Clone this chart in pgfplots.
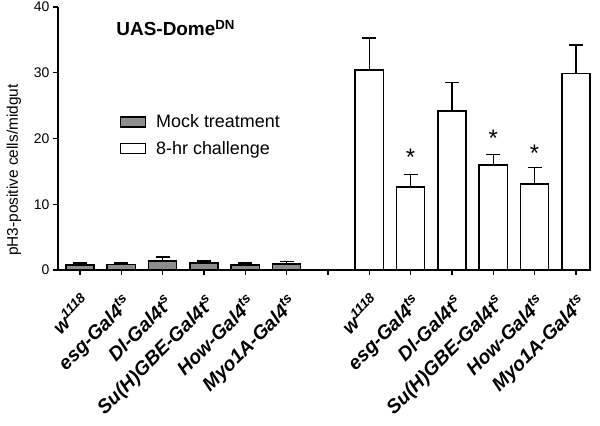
\documentclass[border=0pt]{standalone}
\usepackage{fontspec}
\setmainfont{Liberation Sans}
\usepackage{pgfplots}
\pgfplotsset{compat=1.18}
\definecolor{mockgray}{HTML}{8E8E8E}
\pgfplotsset{boxlegend/.style={legend image code/.code={\draw[##1,line width=1.5pt] (0bp,-5bp) rectangle (25bp,5bp);}},
 errstyle/.style={error bars/.cd,y dir=plus,y explicit,
 error bar style={line width=1.5pt,black},error mark options={rotate=90,mark size=7bp,line width=1.5pt}}}

\begin{document}
\begin{tikzpicture}
\begin{axis}[width=532bp,height=263bp,scale only axis,
 xmin=-0.53,xmax=12.34,ymin=0,ymax=40,
 axis lines=left,axis line style={line width=1.3pt,-},
 ytick={0,10,20,30,40},xtick={0,...,12},
 xticklabels={\textit{w}\textsuperscript{\textit{1118}},esg-Gal4\textsuperscript{ts},Dl-Gal4t\textsuperscript{s},Su(H)GBE-Gal4t\textsuperscript{s},How-Gal4\textsuperscript{ts},Myo1A-Gal4\textsuperscript{ts},,
  \textit{w}\textsuperscript{\textit{1118}},esg-Gal4\textsuperscript{ts},Dl-Gal4t\textsuperscript{s},Su(H)GBE-Gal4t\textsuperscript{s},How-Gal4\textsuperscript{ts},Myo1A-Gal4\textsuperscript{ts}},
 tick align=outside,major tick length=5bp,tick style={line width=1.3pt,black},
 /pgf/number format/assume math mode=true,
 y tick label style={font=\fontsize{14}{14}\selectfont},
 x tick label style={font=\fontsize{19.5}{19.5}\selectfont\bfseries\itshape,inner sep=0bp,xshift=12bp,yshift=-29bp,rotate=45,anchor=base east},
 ylabel={pH3-positive cells/midgut},
 ylabel style={font=\fontsize{15.5}{15.5}\selectfont,at={(rel axis cs:0,0.38)},anchor=center,yshift=44bp},
 ybar,bar width=0.68,
 legend style={draw=none,fill=none,at={(rel axis cs:0.11,0.598)},anchor=north west,
  font=\fontsize{18}{18}\selectfont,row sep=12bp,cells={anchor=west},nodes={inner xsep=10bp,inner ysep=0bp}},
 clip=false]
\addplot[draw=black,fill=mockgray,line width=1.5pt,bar shift=0pt,boxlegend,errstyle]
 coordinates {(0,0.75) +- (0,0.35) (1,0.8) +- (0,0.3) (2,1.4) +- (0,0.6) (3,1.1) +- (0,0.25) (4,0.75) +- (0,0.3) (5,0.9) +- (0,0.4)};
\addplot[draw=black,fill=white,line width=1.5pt,bar shift=0pt,boxlegend,errstyle]
 coordinates {(7,30.4) +- (0,4.9) (8,12.6) +- (0,1.9) (9,24.2) +- (0,4.3) (10,16.0) +- (0,1.6) (11,13.1) +- (0,2.5) (12,29.9) +- (0,4.3)};
\legend{Mock treatment,8-hr challenge}
\node[anchor=west,font=\fontsize{19}{19}\selectfont\bfseries] at (axis cs:0.8,36.8) {UAS-Dome\textsuperscript{DN}};
\node[font=\fontsize{24}{24}\selectfont] at (axis cs:8,17.2) {*};
\node[font=\fontsize{24}{24}\selectfont] at (axis cs:10,20.1) {*};
\node[font=\fontsize{24}{24}\selectfont] at (axis cs:11,17.8) {*};
\coordinate (sw) at (rel axis cs:0,0);
\coordinate (ne) at (rel axis cs:1,1);
\end{axis}
\pgfresetboundingbox
\path[use as bounding box] ([shift={(-58bp,-156bp)}]sw) rectangle ([shift={(10bp,7bp)}]ne);
\end{tikzpicture}
\end{document}
